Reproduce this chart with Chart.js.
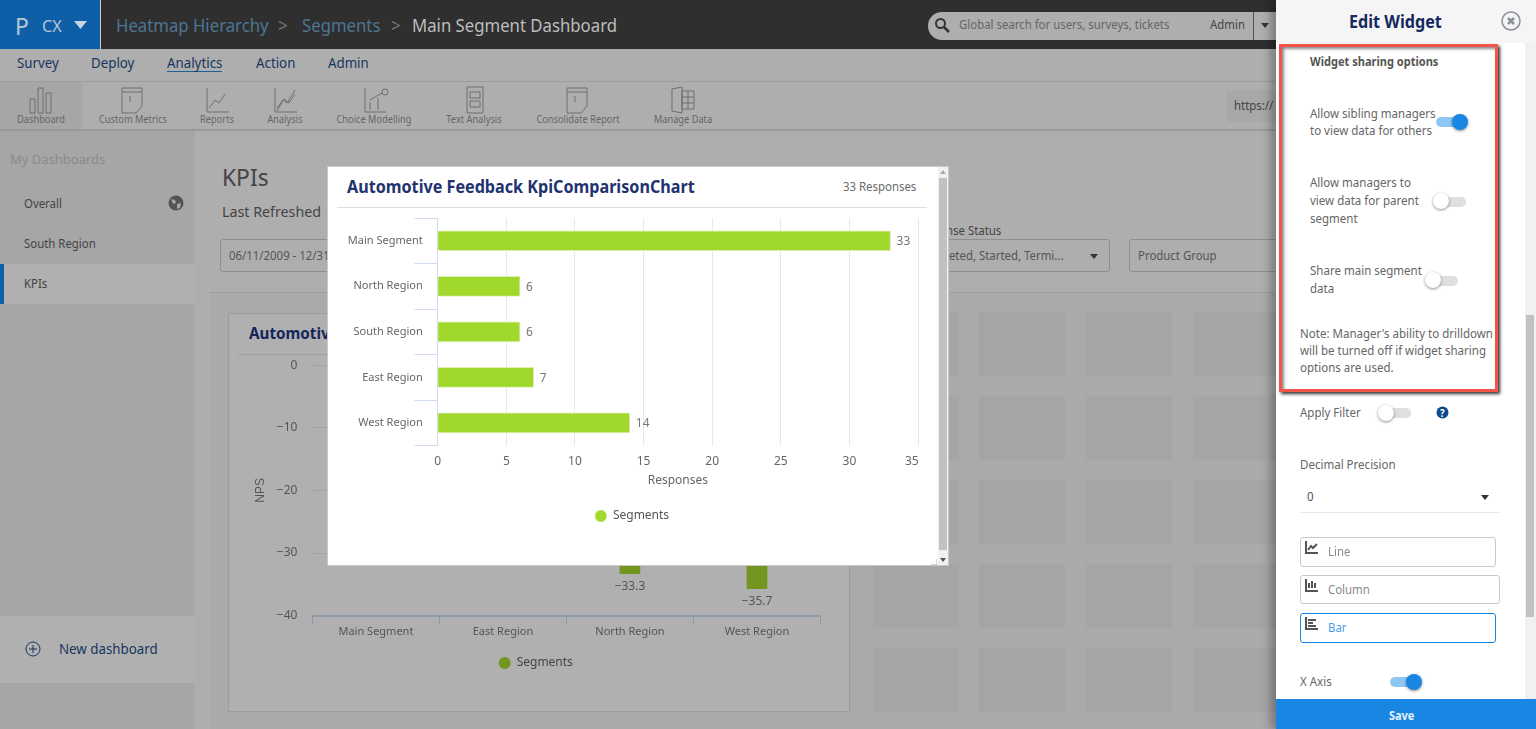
<!DOCTYPE html>
<html lang="en">

<head>
    <meta charset="UTF-8" />
    <title>Main Segment Dashboard</title>
    <script src="https://cdn.jsdelivr.net/npm/chart.js"></script>
    <style>
        html, body { margin: 0; height: 100%; overflow: hidden; }
        body { width: 1536px; height: 729px; position: relative; background: #aeaeae; font-family: 'Noto Sans', sans-serif; color: #4a4a4a; }
        .b { position: absolute; box-sizing: border-box; }
        .t { position: absolute; white-space: nowrap; line-height: 16px; font-size: 12px; transform-origin: left center; transform: scaleX(.95); }
        canvas { position: absolute; }
        .nav { color: #17365f; font-size: 14px; }
        .tool { color: #666; font-size: 10.5px; transform: translateX(-50%) scaleX(.88); transform-origin: center; }
        .side { color: #444; font-size: 12px; }
        .pane { color: #666; font-size: 12px; transform: scaleX(.96); }
        .field { border: 1px solid #8f8f8f; border-radius: 3px; }
        .tile { position: absolute; width: 86px; height: 64px; background: #a5a5a5; }
        .track { position: absolute; height: 10px; border-radius: 5px; background: #dfdfdf; }
        .track.on { background: #90c6f3; }
        .knob { position: absolute; width: 16px; height: 16px; border-radius: 50%; background: #fff; box-shadow: 0 1px 3px rgba(0,0,0,.45); }
        .knob.on { background: #1a86e3; }
        .opt { position: absolute; left: 1300px; height: 30px; box-sizing: border-box; border: 1px solid #c9c9c9; border-radius: 3px; }
        svg { position: absolute; }
    </style>
</head>

<body>
    <!-- header -->
    <div class="b" style="left:0;top:0;width:1276px;height:49px;background:#2f2f2f"></div>
    <div class="b" style="left:0;top:0;width:101px;height:49px;background:#0f5fa8;border-right:1px solid #ccc"></div>
    <div class="t" style="left:15px;top:14px;font-size:24px;line-height:24px;color:#b8c6d6">P</div>
    <div class="t" style="left:42px;top:18px;font-size:17px;color:#b8c6d6">CX</div>
    <svg style="left:74px;top:21px" width="13" height="8"><path d="M0 0h13L6.5 8z" fill="#c7d3e0" /></svg>
    <div class="t" style="left:116px;top:17px;font-size:18px;color:#4d7692;transform:scaleX(.93)">Heatmap Hierarchy</div>
    <div class="t" style="left:278px;top:17px;font-size:18px;color:#777">&gt;</div>
    <div class="t" style="left:302px;top:17px;font-size:18px;color:#4d7692;transform:scaleX(.93)">Segments</div>
    <div class="t" style="left:391px;top:17px;font-size:18px;color:#777">&gt;</div>
    <div class="t" style="left:412px;top:17px;font-size:18px;color:#bdbdbd;transform:scaleX(.93)">Main Segment Dashboard</div>
    <div class="b" style="left:928px;top:12px;width:348px;height:28px;border-radius:14px 0 0 14px;background:#aeaeae"></div>
    <svg style="left:934px;top:17px" width="16" height="16"><circle cx="6.5" cy="6.5" r="4.5" fill="none" stroke="#333" stroke-width="2" /><path d="M10 10l5 5" stroke="#333" stroke-width="2.5" /></svg>
    <div class="t" style="left:959px;top:17px;color:#666">Global search for users, surveys, tickets</div>
    <div class="t" style="left:1210px;top:17px;color:#444">Admin</div>
    <div class="b" style="left:1253px;top:12px;width:1px;height:28px;background:#555"></div>
    <svg style="left:1261px;top:23px" width="8" height="5"><path d="M0 0h8L4 5z" fill="#333" /></svg>

    <!-- nav rows -->
    <div class="b" style="left:0;top:49px;width:1276px;height:33px;border-bottom:1px solid #9d9d9d"></div>
    <div class="t nav" style="left:17px;top:55px">Survey</div>
    <div class="t nav" style="left:91px;top:55px">Deploy</div>
    <div class="t nav" style="left:167px;top:55px;border-bottom:1px solid #1d5f96">Analytics</div>
    <div class="t nav" style="left:256px;top:55px">Action</div>
    <div class="t nav" style="left:328px;top:55px">Admin</div>
    <div class="b" style="left:0;top:82px;width:82px;height:47px;background:#a6a6a6"></div>
    <div class="b" style="left:0;top:129px;width:1276px;height:2px;background:#999"></div>
    <svg style="left:0;top:84px" width="720" height="32" fill="none" stroke="#6e6e6e">
        <path d="M30 15h5v14h-5zM38 4h5v25h-5zM46 9h5v20h-5z" />
        <path d="M122 4h20v18l-6 7h-14zM122 8h20M130 12v6" />
        <path d="M207 4v24h22M209 24l6-8 4 3 6-9" />
        <path d="M275 4v24h22M277 24l6-8 4 3 8-13M277 27l7-12 5 4 6-9" />
        <path d="M365 4v24h21M370 26v-8M378 26v-12M385 8m-3 0a3 3 0 1 0 6 0a3 3 0 1 0-6 0M370 16l12-7" />
        <path d="M467 3h16v26h-16zM470 8h10v6h-10zM470 17h10v6h-10z" />
        <path d="M567 4h20v18l-6 7h-14zM567 8h20M575 12v6" />
        <path d="M672 5l10-2v26l-10-2zM682 7h12v18h-12zM682 13h12M682 19h12M688 7v18" />
    </svg>
    <div class="t tool" style="left:41px;top:111px">Dashboard</div>
    <div class="t tool" style="left:133px;top:111px">Custom Metrics</div>
    <div class="t tool" style="left:217px;top:111px">Reports</div>
    <div class="t tool" style="left:285px;top:111px">Analysis</div>
    <div class="t tool" style="left:374px;top:111px">Choice Modelling</div>
    <div class="t tool" style="left:474px;top:111px">Text Analysis</div>
    <div class="t tool" style="left:578px;top:111px">Consolidate Report</div>
    <div class="t tool" style="left:683px;top:111px">Manage Data</div>
    <div class="b" style="left:1227px;top:90px;width:49px;height:32px;background:#a8a8a8"></div>
    <div class="t" style="left:1234px;top:98px;color:#444">https://</div>

    <!-- side menu -->
    <div class="b" style="left:0;top:131px;width:195px;height:598px;background:#a6a6a6"></div>
    <div class="t" style="left:10px;top:151px;font-size:13px;color:#8a8a8a;transform:none">My Dashboards</div>
    <div class="t side" style="left:24px;top:196px">Overall</div>
    <svg style="left:168px;top:195px" width="16" height="16"><circle cx="8" cy="8" r="7.5" fill="#4f5458" /><path d="M3 4l4 1 1 3-3 1zM9 9l4-1-1 5-3 1z" fill="#a6a6a6" /></svg>
    <div class="t side" style="left:24px;top:236px">South Region</div>
    <div class="b" style="left:0;top:264px;width:195px;height:40px;background:#b0b0b0;border-left:4px solid #0f5fa8"></div>
    <div class="t side" style="left:24px;top:276px">KPIs</div>
    <div class="b" style="left:0;top:616px;width:195px;height:67px;background:#b0b0b0"></div>
    <svg style="left:25px;top:641px" width="16" height="16" fill="none" stroke="#17365f"><circle cx="8" cy="8" r="7" /><path d="M4 8h8M8 4v8" /></svg>
    <div class="t" style="left:59px;top:641px;font-size:14px;color:#17365f">New dashboard</div>

    <!-- dashboard body -->
    <div class="t" style="left:222px;top:167px;font-size:24px;line-height:20px;color:#444">KPIs</div>
    <div class="t" style="left:222px;top:203px;font-size:15px;color:#444">Last Refreshed</div>
    <div class="b field" style="left:220px;top:239px;width:120px;height:33px"></div>
    <div class="t" style="left:229px;top:248px;color:#555">06/11/2009 - 12/31</div>
    <div class="t" style="left:946px;top:223px;color:#444">nse Status</div>
    <div class="b field" style="left:900px;top:239px;width:210px;height:33px"></div>
    <div class="t" style="left:946px;top:248px;color:#555">leted, Started, Termi...</div>
    <svg style="left:1090px;top:254px" width="8" height="5"><path d="M0 0h8L4 5z" fill="#333" /></svg>
    <div class="b field" style="left:1129px;top:239px;width:150px;height:33px"></div>
    <div class="t" style="left:1138px;top:248px;color:#555">Product Group</div>
    <div class="b" style="left:210px;top:292px;width:1066px;height:437px;background:#aaa;border-top:1px solid #9e9e9e"></div>

    <div id="tiles"></div>

    <!-- widget behind the dialog -->
    <div class="b" style="left:228px;top:313px;width:622px;height:399px;background:#b0b0b0;border:1px solid #9b9b9b"></div>
    <div class="t" style="left:249px;top:325px;font-size:16px;font-weight:700;color:#14265c">Automotive Feedback</div>
    <div class="b" style="left:238px;top:354px;width:600px;height:1px;background:#9e9e9e"></div>
    <canvas id="npsChart" width="622" height="357" style="left:228px;top:355px;width:622px;height:357px"></canvas>

    <!-- dialog -->
    <div class="b" style="left:327px;top:166px;width:622px;height:400px;background:#fff;border:1px solid #c8c8c8"></div>
    <div class="t" style="left:347px;top:179px;font-size:17px;font-weight:700;color:#1f3370">Automotive Feedback KpiComparisonChart</div>
    <div class="t" style="left:843px;top:179px;color:#6b6b6b">33 Responses</div>
    <div class="b" style="left:337px;top:207px;width:590px;height:1px;background:#dedede"></div>
    <canvas id="responsesChart" width="610" height="352" style="left:327px;top:208px;width:610px;height:352px"></canvas>
    <div class="b" style="left:938px;top:167px;width:10px;height:398px;background:#f1f1f1"></div>
    <div class="b" style="left:939px;top:178px;width:8px;height:372px;background:#c1c1c1"></div>
    <svg style="left:940px;top:170px" width="6" height="4"><path d="M3 0l3 4H0z" fill="#aaa" /></svg>
    <svg style="left:940px;top:558px" width="6" height="4"><path d="M0 0h6L3 4z" fill="#555" /></svg>
    <svg style="left:931px;top:559px" width="6" height="6"><path d="M6 0v6H0" fill="none" stroke="#aaa" /></svg>

    <!-- edit panel -->
    <div class="b" style="left:1276px;top:0;width:260px;height:729px;background:#fff;box-shadow:-6px 0 8px rgba(0,0,0,.28)"></div>
    <div class="b" style="left:1276px;top:0;width:260px;height:43px;background:#f5f5f5"></div>
    <div class="t" style="left:1349px;top:14px;font-size:17px;font-weight:700;color:#16295f">Edit Widget</div>
    <svg style="left:1501px;top:11px" width="20" height="20" fill="none" stroke="#8a9099" stroke-width="1.5"><circle cx="10" cy="10" r="9" /><path d="M7 7l6 6M13 7l-6 6" stroke-width="2.5" /></svg>
    <div class="b" style="left:1525px;top:43px;width:11px;height:656px;background:#f1f1f1"></div>
    <div class="b" style="left:1526px;top:315px;width:8px;height:302px;background:#c1c1c1"></div>
    <div class="b" style="left:1279px;top:44px;width:219px;height:348px;border:3px solid #f4534a;box-shadow:2px 2px 3px rgba(0,0,0,.8), inset 2px 2px 3px rgba(0,0,0,.45)"></div>
    <div class="t pane" style="left:1310px;top:54px;font-weight:700;font-size:11.5px;color:#555">Widget sharing options</div>
    <div class="t pane" style="left:1310px;top:106px">Allow sibling managers</div>
    <div class="t pane" style="left:1310px;top:123px">to view data for others</div>
    <div class="track on" style="left:1436px;top:117px;width:30px"></div>
    <div class="knob on" style="left:1452px;top:114px"></div>
    <div class="t pane" style="left:1310px;top:175px">Allow managers to</div>
    <div class="t pane" style="left:1310px;top:193px">view data for parent</div>
    <div class="t pane" style="left:1310px;top:211px">segment</div>
    <div class="track" style="left:1434px;top:197px;width:32px"></div>
    <div class="knob" style="left:1433px;top:193px"></div>
    <div class="t pane" style="left:1310px;top:263px">Share main segment</div>
    <div class="t pane" style="left:1310px;top:281px">data</div>
    <div class="track" style="left:1426px;top:276px;width:32px"></div>
    <div class="knob" style="left:1425px;top:272px"></div>
    <div class="t pane" style="left:1300px;top:326px">Note: Manager's ability to drilldown</div>
    <div class="t pane" style="left:1300px;top:343px">will be turned off if widget sharing</div>
    <div class="t pane" style="left:1300px;top:360px">options are used.</div>
    <div class="t pane" style="left:1300px;top:405px">Apply Filter</div>
    <div class="track" style="left:1380px;top:408px;width:31px"></div>
    <div class="knob" style="left:1378px;top:405px"></div>
    <svg style="left:1436px;top:406px" width="13" height="13"><circle cx="6.5" cy="6.5" r="6" fill="#0d4a8c" /></svg>
    <div class="t" style="left:1440px;top:405px;font-size:10px;font-weight:700;color:#fff">?</div>
    <div class="t pane" style="left:1300px;top:457px">Decimal Precision</div>
    <div class="t pane" style="left:1307px;top:489px;color:#555">0</div>
    <svg style="left:1481px;top:495px" width="8" height="5"><path d="M0 0h8L4 5z" fill="#333" /></svg>
    <div class="b" style="left:1300px;top:512px;width:200px;height:1px;background:#e8e8e8"></div>
    <div class="opt" style="top:537px;width:196px"></div>
    <div class="opt" style="top:575px;width:200px;height:29px"></div>
    <div class="opt" style="top:613px;width:196px;border-color:#1a86e3"></div>
    <svg style="left:1305px;top:541px" width="13" height="13" fill="none" stroke="#555" stroke-width="2"><path d="M1 0v12h12M3 9l3-4 2 2 4-4" /></svg>
    <svg style="left:1305px;top:579px" width="13" height="13" fill="none" stroke="#555" stroke-width="2"><path d="M1 0v12h12M4 9V4M7 9V2M10 9V4" /></svg>
    <svg style="left:1305px;top:617px" width="13" height="13" fill="none" stroke="#555" stroke-width="2"><path d="M1 0v12h12M3 3h8M3 6h5M3 9h8" /></svg>
    <div class="t" style="left:1328px;top:544px;color:#8a8a8a">Line</div>
    <div class="t" style="left:1328px;top:582px;color:#8a8a8a">Column</div>
    <div class="t" style="left:1328px;top:620px;color:#4a9de8">Bar</div>
    <div class="t pane" style="left:1300px;top:674px">X Axis</div>
    <div class="track on" style="left:1390px;top:677px;width:26px"></div>
    <div class="knob on" style="left:1406px;top:674px"></div>
    <div class="b" style="left:1276px;top:699px;width:260px;height:30px;background:#1a86e3"></div>
    <div class="t" style="left:1389px;top:708px;font-weight:700;font-size:11.5px;color:#e4f1fc">Save</div>

    <script>
        const responseCategories = ["Main Segment", "North Region", "South Region", "East Region", "West Region"];
        const responseValues = [33, 6, 6, 7, 14];
        const responseTicks = [0, 5, 10, 15, 20, 25, 30, 35];

        // first two bars sit behind the dialog, values are guesses
        const npsCategories = ["Main Segment", "East Region", "North Region", "West Region"];
        const npsValues = [-21.2, -28.6, -33.3, -35.7];
        const npsTicks = [0, -10, -20, -30, -40];

        const FONT = "'Noto Sans', sans-serif";
        const minus = v => String(v).replace("-", "\u2212");

        // tiles on the right of the widget
        const tiles = document.getElementById("tiles");
        [873, 979, 1086, 1193].forEach(x => [312, 396, 480, 564, 648].forEach(y => {
            const d = document.createElement("div");
            d.className = "tile";
            d.style.left = x + "px";
            d.style.top = y + "px";
            tiles.appendChild(d);
        }));

        // value labels at the end of each bar
        const barLabels = {
            id: "barLabels",
            afterDatasetsDraw(chart, args, opts) {
                const ctx = chart.ctx;
                ctx.save();
                ctx.font = "12px " + FONT;
                ctx.fillStyle = opts.color;
                ctx.textBaseline = "middle";
                chart.getDatasetMeta(0).data.forEach((bar, i) => {
                    const val = minus(chart.data.datasets[0].data[i]);
                    if (chart.options.indexAxis === "y") {
                        ctx.textAlign = "left";
                        ctx.fillText(val, bar.x + 6, bar.y + 1);
                    } else {
                        ctx.textAlign = "center";
                        ctx.fillText(val, bar.x, bar.y + 13);
                    }
                });
                ctx.restore();
            }
        };

        new Chart(document.getElementById("npsChart"), {
            type: "bar",
            data: {
                labels: npsCategories,
                datasets: [{ label: "Segments", data: npsValues, backgroundColor: "#72961e", barThickness: 20 }]
            },
            plugins: [barLabels],
            options: {
                responsive: false,
                animation: false,
                // left padding keeps the legend centred where the reference has it
                layout: { padding: { top: 9.7, left: 23, right: 29.5, bottom: 33 } },
                scales: {
                    x: {
                        afterFit: s => { s.height = 31.3; },
                        grid: { drawOnChartArea: false, tickLength: 9, color: "#8f9aa8" },
                        border: { color: "#8f9aa8", width: 2 },
                        ticks: { color: "#555", padding: 1, font: { family: FONT, size: 11 } }
                    },
                    y: {
                        min: -40,
                        max: 0,
                        afterFit: s => { s.width = 61.4; },
                        afterBuildTicks: s => { s.ticks = npsTicks.map(value => ({ value })); },
                        // tick padding also grows the plot inset, so space the labels with an invisible tick
                        grid: { color: "#a3a3a3", tickLength: 12, tickColor: "transparent" },
                        border: { display: false },
                        ticks: { color: "#555", padding: 3, font: { family: FONT, size: 12 }, callback: minus },
                        title: { display: true, text: "NPS", color: "#555", padding: { top: 2, bottom: 0 }, font: { family: "'Liberation Sans', sans-serif", size: 12 } }
                    }
                },
                plugins: {
                    barLabels: { color: "#555" },
                    tooltip: { enabled: false },
                    legend: {
                        position: "bottom",
                        labels: { usePointStyle: true, pointStyle: "circle", boxHeight: 8.5, padding: 10, color: "#444", font: { family: FONT, size: 12 } }
                    }
                }
            }
        });

        new Chart(document.getElementById("responsesChart"), {
            type: "bar",
            data: {
                labels: responseCategories,
                datasets: [{ label: "Segments", data: responseValues, backgroundColor: "#a0d82b", borderColor: "#dcf0b0", borderWidth: 1, barThickness: 20 }]
            },
            plugins: [barLabels],
            options: {
                indexAxis: "y",
                responsive: false,
                animation: false,
                layout: { padding: { top: 10, left: 19, right: 19, bottom: 28 } },
                scales: {
                    x: {
                        min: 0,
                        max: 35,
                        afterFit: s => { s.height = 54.3; },
                        afterBuildTicks: s => { s.ticks = responseTicks.map(value => ({ value })); },
                        grid: { color: "#e8e8e8", tickLength: 7, tickColor: "transparent" },
                        border: { display: false },
                        // the library keeps 35 centred, the trailing spaces push it left as in the reference
                        ticks: { color: "#666", padding: 2, maxRotation: 0, font: { family: FONT, size: 12 }, callback: v => v === 35 ? "35    " : v },
                        title: { display: true, text: "Responses", color: "#666", padding: { top: 0, bottom: 12 }, font: { family: FONT, size: 12 } }
                    },
                    y: {
                        afterFit: s => { s.width = 91.7; },
                        grid: { drawOnChartArea: false, tickLength: 23, color: "#cfdcf0" },
                        border: { color: "#cfdcf0", width: 1 },
                        ticks: { color: "#666", padding: -8, font: { family: FONT, size: 11 } }
                    }
                },
                plugins: {
                    barLabels: { color: "#777" },
                    tooltip: { enabled: false },
                    legend: {
                        position: "bottom",
                        labels: { usePointStyle: true, pointStyle: "circle", boxHeight: 8.5, padding: 10, color: "#555", font: { family: FONT, size: 12 } }
                    }
                }
            }
        });
    </script>
</body>

</html>
